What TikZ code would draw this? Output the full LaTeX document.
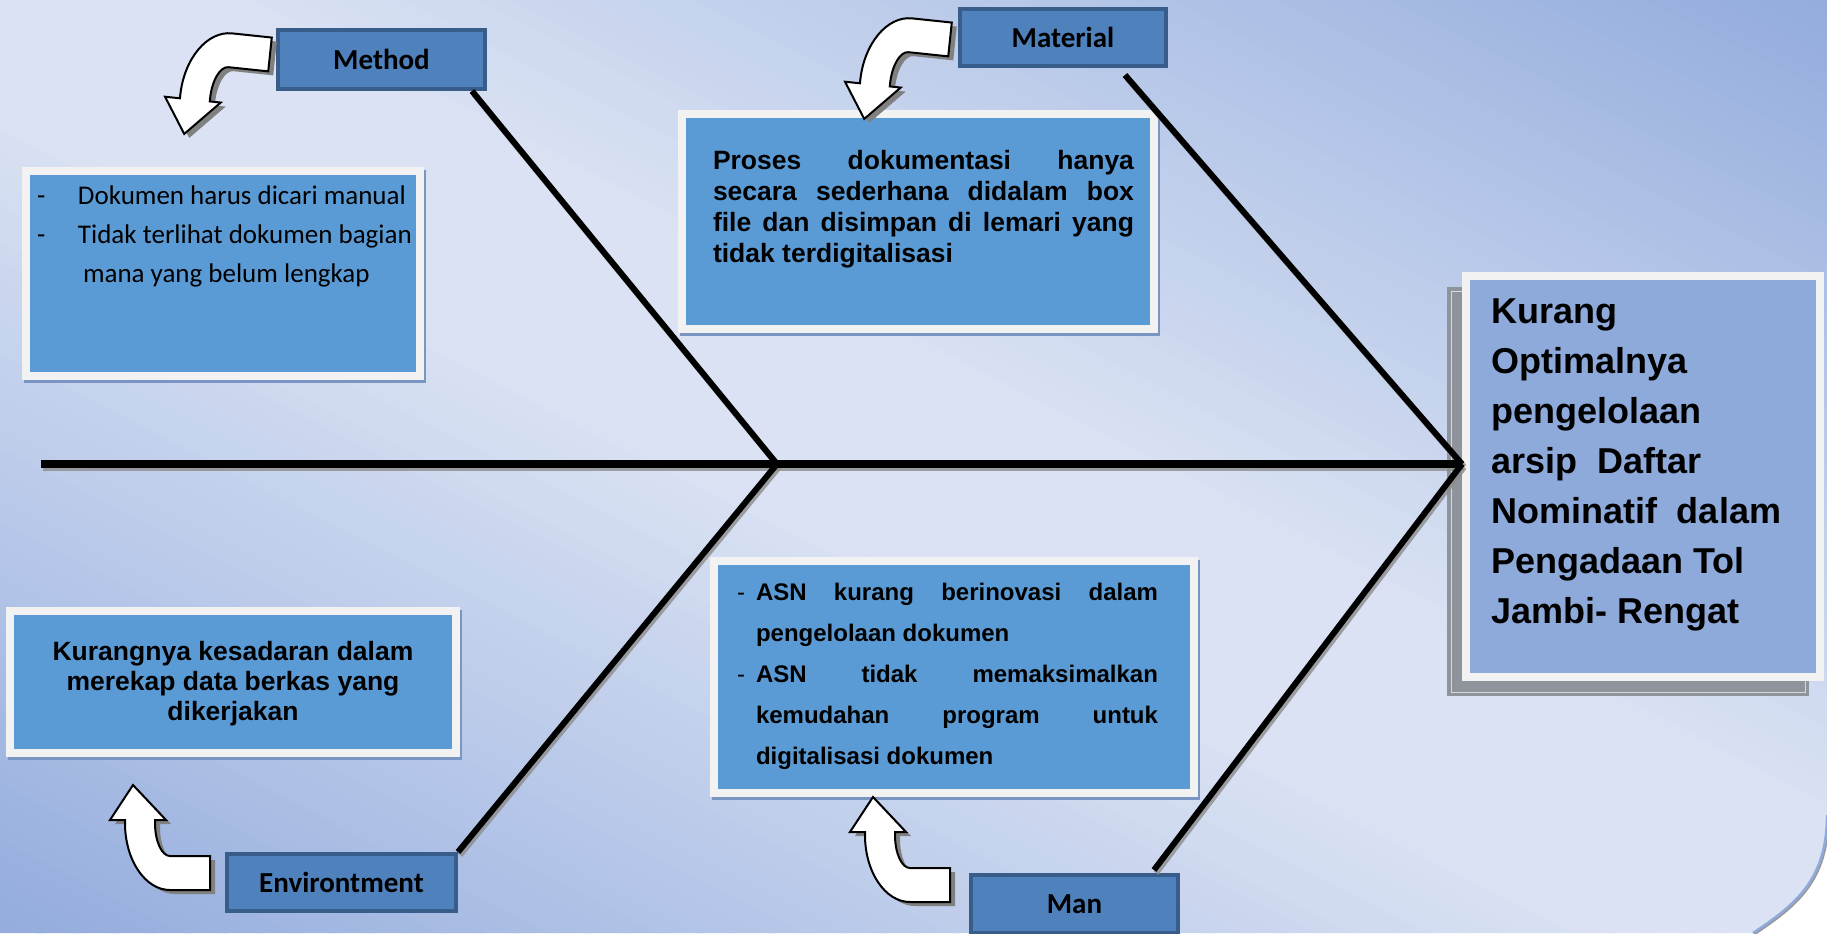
\documentclass[tikz,border=0pt]{standalone}
\usepackage{fontspec}
\setmainfont{Liberation Sans}
\newfontfamily\calibri{Carlito}
\usetikzlibrary{shadows}
\definecolor{bglight}{HTML}{DAE2F3}
\definecolor{bgdark}{HTML}{93ACDD}
\definecolor{catfill}{HTML}{4F81BD}
\definecolor{catdraw}{HTML}{385D8A}
\definecolor{notefill}{HTML}{5B9BD5}
\definecolor{framegray}{HTML}{F2F2F2}
\definecolor{causefill}{HTML}{8EAADB}
\definecolor{causeshade}{HTML}{8E939C}
\definecolor{noteshade}{HTML}{7B95C2}
\definecolor{rimblue}{HTML}{8FAADC}
\newcommand{\bentarrow}{(40,-67) -- (0,-67) arc[start angle=-90, end angle=-180, x radius=45, y radius=67] -- (-45,3) -- (-60,3) -- (-37,38) -- (-4,3) -- (-15,3) -- (-15,0) arc[start angle=180, end angle=270, x radius=15, y radius=33] -- (40,-33) -- cycle}
\begin{document}
\begin{tikzpicture}[
    x=0.5pt, y=-0.5pt,
    catbox/.style={rectangle, draw=catdraw, line width=2pt, fill=catfill, inner sep=0pt,
        font=\calibri\bfseries\fontsize{14.5pt}{17pt}\selectfont},
    notebox/.style={rectangle, draw=framegray, line width=4pt, fill=notefill, inner sep=0pt,
        drop shadow={shadow xshift=1.2pt, shadow yshift=-1.5pt, fill=noteshade, draw=noteshade, line width=4pt, opacity=1}},
    causebox/.style={rectangle, draw=framegray, line width=4pt, fill=causefill, inner sep=0pt,
        drop shadow={shadow xshift=-7.5pt, shadow yshift=-7.5pt, fill=causeshade, draw=causeshade, line width=1.8pt,
            double=black!15, double distance=0.4pt, opacity=1}},
    bone/.style={draw=black, line width=3pt},
    spine/.style={draw=black, line width=4pt},
    boneshade/.style={draw=black!45, opacity=0.8, transform canvas={xshift=1pt, yshift=-1.5pt}},
    arrowbody/.style={fill=white, draw=black, line width=1pt, line join=miter},
    arrowshade/.style={fill=black!50},
    rim/.style={draw=rimblue, line width=1.2pt}
]
\useasboundingbox (0,0) rectangle (1827,933);
\fill[white] (0,0) rectangle (1827,933);
\begin{scope}
\clip (0,0) -- (1827,0) -- (1827,815) .. controls (1827,880) and (1795,905) .. (1753,933) -- (0,933) -- cycle;
\foreach \u in {-1.00,-0.98,...,1.00} {
    \pgfmathsetmacro\p{max(0,min(100,(abs(\u+0.01)-0.12)/0.88*100))}
    \fill[bgdark!\p!bglight] ({\u*1827},0) -- ({(\u+0.025)*1827},0) -- ({(\u+1.025)*1827},933) -- ({(\u+1)*1827},933) -- cycle;
}
\end{scope}
\draw[rim, draw=black!40, transform canvas={xshift=0.6pt, yshift=-0.6pt}] (1827,815) .. controls (1827,880) and (1795,905) .. (1753,933);
\draw[rim] (1827,815) .. controls (1827,880) and (1795,905) .. (1753,933);

\node[catbox, minimum width=103.5pt, minimum height=29.5pt] (methodlbl) at (381.5,59.5) {Method};
\node[catbox, minimum width=103pt, minimum height=28.5pt] (materiallbl) at (1063,37.5) {Material};
\node[catbox, minimum width=114.5pt, minimum height=28.5pt] (envlbl) at (341.5,882.5) {Environtment};
\node[catbox, minimum width=103.5pt, minimum height=29pt] (manlbl) at (1074.5,904) {Man};

\node[notebox] (methodnote) at (223,273.5) {\begin{minipage}[t][102.5pt][t]{197pt}\calibri\fontsize{13.5pt}{19.5pt}\selectfont
\rule{0pt}{16.5pt}\hspace*{5.5pt}\makebox[20.5pt][l]{-}Dokumen harus dicari manual\\
\hspace*{5.5pt}\makebox[20.5pt][l]{-}Tidak terlihat dokumen bagian\\
\hspace*{28.5pt}mana yang belum lengkap
\end{minipage}};
\node[notebox] (materialnote) at (918,221.5) {\begin{minipage}[t][107.5pt][t]{236pt}\bfseries\fontsize{13.25pt}{15.6pt}\selectfont
\rule{0pt}{27.5pt}\hspace*{15.5pt}\makebox[210.5pt][s]{Proses dokumentasi hanya}\\
\hspace*{15.5pt}\makebox[210.5pt][s]{secara sederhana didalam box}\\
\hspace*{15.5pt}\makebox[210.5pt][s]{file dan disimpan di lemari yang}\\
\hspace*{15.5pt}tidak terdigitalisasi
\end{minipage}};
\node[notebox] (envnote) at (233,682) {\begin{minipage}[t][71pt][t]{223pt}\centering\bfseries\fontsize{13.25pt}{15pt}\selectfont
\rule{0pt}{24.5pt}Kurangnya kesadaran dalam\\
merekap data berkas yang\\
dikerjakan
\end{minipage}};
\node[notebox] (mannote) at (954,677) {\begin{minipage}[t][116pt][t]{240pt}\bfseries\fontsize{12pt}{20.6pt}\selectfont
\rule{0pt}{19.5pt}\hspace*{11.5pt}\makebox[9.5pt][l]{\mdseries -}\makebox[201pt][s]{ASN kurang berinovasi dalam}\\
\hspace*{21pt}pengelolaan dokumen\\
\hspace*{11.5pt}\makebox[9.5pt][l]{\mdseries -}\makebox[201pt][s]{ASN tidak memaksimalkan}\\
\hspace*{21pt}\makebox[201pt][s]{kemudahan program untuk}\\
\hspace*{21pt}digitalisasi dokumen
\end{minipage}};
\node[causebox] (cause) at (1643,476.5) {\begin{minipage}[t][200.5pt][t]{177pt}\bfseries\fontsize{18pt}{25pt}\selectfont
\rule{0pt}{23.5pt}\hspace*{12.5pt}Kurang\\
\hspace*{12.5pt}Optimalnya\\
\hspace*{12.5pt}pengelolaan\\
\hspace*{12.5pt}arsip\ \ Daftar\\
\hspace*{12.5pt}Nominatif\ \ dalam\\
\hspace*{12.5pt}Pengadaan Tol\\
\hspace*{12.5pt}Jambi- Rengat
\end{minipage}};

\coordinate (tail) at (41,464);
\coordinate (j1) at (777,464);
\coordinate (head) at (cause.west |- tail);
\draw[boneshade, line width=4pt] (tail) -- (head);
\draw[boneshade, line width=3pt] ([xshift=-7.5pt]methodlbl.south east) -- (j1);
\draw[boneshade, line width=3pt] ([shift={(-43,7)}]materiallbl.south east) -- (head);
\draw[boneshade, line width=3pt] (envlbl.north east) -- (j1);
\draw[boneshade, line width=3pt] ([shift={(-26,-3)}]manlbl.north east) -- (head);
\draw[spine] (tail) -- (head);
\draw[bone] ([xshift=-7.5pt]methodlbl.south east) -- (j1);
\draw[bone] ([shift={(-43,7)}]materiallbl.south east) -- (head);
\draw[bone] (envlbl.north east) -- (j1);
\draw[bone] ([shift={(-26,-3)}]manlbl.north east) -- (head);

\fill[arrowshade, shift={(230,104)}, rotate=-6] \bentarrow;
\draw[arrowbody, shift={(225,100)}, rotate=-6] \bentarrow;
\fill[arrowshade, shift={(910,89)}, rotate=-6] \bentarrow;
\draw[arrowbody, shift={(905,85)}, rotate=-6] \bentarrow;
\fill[arrowshade, shift={(175,827)}, yscale=-1] \bentarrow;
\draw[arrowbody, shift={(170,823)}, yscale=-1] \bentarrow;
\fill[arrowshade, shift={(915,839)}, yscale=-1] \bentarrow;
\draw[arrowbody, shift={(910,835)}, yscale=-1] \bentarrow;
\end{tikzpicture}
\end{document}
